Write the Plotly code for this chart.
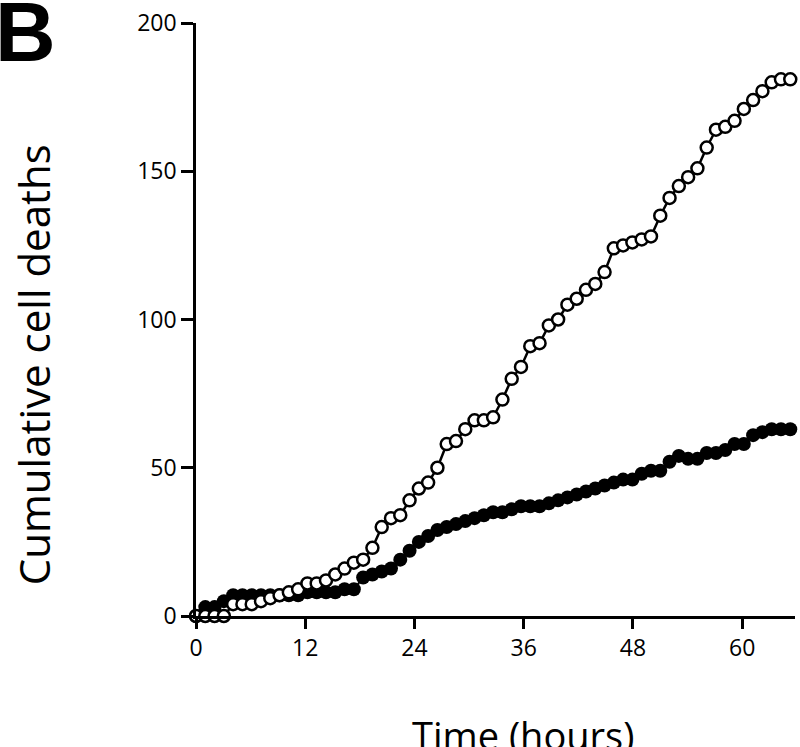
import plotly.graph_objects as go

# Sampling times (hours): frames roughly every 61 minutes
n_frames = 65
time_h = [round(i * 1.02, 2) for i in range(n_frames)]

# Cumulative cell deaths, open-circle series
open_deaths = [0, 0, 0, 0, 4, 4, 4, 5, 6, 7, 8, 9, 11, 11, 12, 14, 16, 18, 19, 23,
               30, 33, 34, 39, 43, 45, 50, 58, 59, 63, 66, 66, 67, 73, 80, 84, 91, 92, 98, 100,
               105, 107, 110, 112, 116, 124, 125, 126, 127, 128, 135, 141, 145, 148, 151, 158, 164, 165, 167, 171,
               174, 177, 180, 181, 181]

# Cumulative cell deaths, filled-circle series
filled_deaths = [0, 3, 3, 5, 7, 7, 7, 7, 7, 7, 7, 7, 8, 8, 8, 8, 9, 9, 13, 14,
                 15, 16, 19, 22, 25, 27, 29, 30, 31, 32, 33, 34, 35, 35, 36, 37, 37, 37, 38, 39,
                 40, 41, 42, 43, 44, 45, 46, 46, 48, 49, 49, 52, 54, 53, 53, 55, 55, 56, 58, 58,
                 61, 62, 63, 63, 63]

x_ticks = [0, 12, 24, 36, 48, 60]
y_ticks = [0, 50, 100, 150, 200]

font_family = "Open Sans, DejaVu Sans, sans-serif"

fig = go.Figure()
fig.add_trace(go.Scatter(
    x=time_h, y=filled_deaths, mode="lines+markers",
    line=dict(color="black", width=2),
    marker=dict(symbol="circle", size=14, color="black", line=dict(color="black", width=0)),
    cliponaxis=False, showlegend=False, hoverinfo="skip"))
fig.add_trace(go.Scatter(
    x=time_h, y=open_deaths, mode="lines+markers",
    line=dict(color="black", width=2.5),
    marker=dict(symbol="circle", size=12, color="white", line=dict(color="black", width=2.5)),
    cliponaxis=False, showlegend=False, hoverinfo="skip"))

fig.update_layout(
    width=800, height=747,
    margin=dict(l=196, r=5, t=23, b=131, autoexpand=False),
    plot_bgcolor="white", paper_bgcolor="white",
    font=dict(family=font_family, color="black"),
    xaxis=dict(range=[0, 65.8], tickvals=x_ticks, ticktext=[str(v) for v in x_ticks],
               showline=True, linecolor="black", linewidth=2.5, ticks="outside",
               ticklen=10, tickwidth=2.5, tickcolor="black", showgrid=False, zeroline=False,
               automargin=False, tickfont=dict(size=23, family=font_family)),
    yaxis=dict(range=[0, 200], tickvals=y_ticks, ticktext=[str(v) for v in y_ticks],
               showline=True, linecolor="black", linewidth=2.5, ticks="outside",
               ticklen=12, tickwidth=2.5, tickcolor="black", showgrid=False, zeroline=False,
               automargin=False, tickfont=dict(size=23, family=font_family)),
)

fig.add_annotation(text="Cumulative cell deaths", xref="paper", yref="paper",
                   x=-0.272, y=0.423, textangle=-90, showarrow=False,
                   xanchor="center", yanchor="middle",
                   font=dict(size=42, family=font_family, color="black"))
fig.add_annotation(text="Time (hours)", xref="paper", yref="paper",
                   x=0.546, y=-0.2, showarrow=False,
                   xanchor="center", yanchor="middle",
                   font=dict(size=38, family=font_family, color="black"))
fig.add_annotation(text="<b>B</b>", xref="paper", yref="paper",
                   x=-0.285, y=0.985, showarrow=False,
                   xanchor="center", yanchor="middle",
                   font=dict(size=84, family="Liberation Sans, Arial, sans-serif", color="black"))

fig.write_html("out.html", config={"displayModeBar": False},
               post_script="document.body.style.margin='0';")
